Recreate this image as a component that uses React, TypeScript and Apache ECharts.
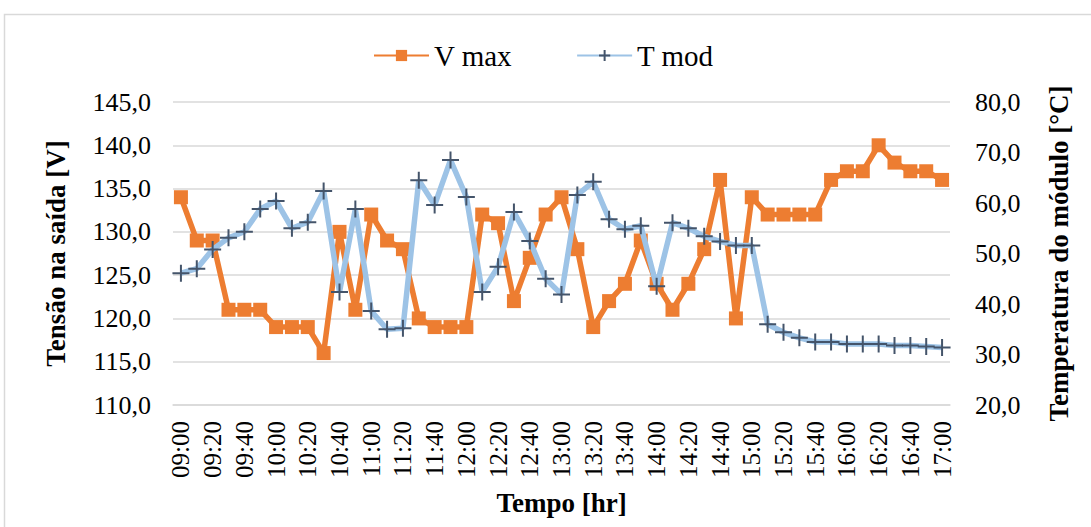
import React, { useEffect, useRef } from "react";
import * as echarts from "echarts";

const categories = [
  "09:00","09:10","09:20","09:30","09:40","09:50",
  "10:00","10:10","10:20","10:30","10:40","10:50",
  "11:00","11:10","11:20","11:30","11:40","11:50",
  "12:00","12:10","12:20","12:30","12:40","12:50",
  "13:00","13:10","13:20","13:30","13:40","13:50",
  "14:00","14:10","14:20","14:30","14:40","14:50",
  "15:00","15:10","15:20","15:30","15:40","15:50",
  "16:00","16:10","16:20","16:30","16:40","16:50",
  "17:00",
];

const vMax = [
  134, 129, 129, 121, 121, 121, 119, 119, 119, 116,
  130, 121, 132, 129, 128, 120, 119, 119, 119, 132,
  131, 122, 127, 132, 134, 128, 119, 122, 124, 129,
  124, 121, 124, 128, 136, 120, 134, 132, 132, 132,
  132, 136, 137, 137, 140, 138, 137, 137, 136,
];

const tMod = [
  46.1, 47.0, 50.8, 53.1, 54.3, 58.8, 60.4, 55.0, 56.2, 62.4,
  42.4, 58.8, 38.6, 35.0, 35.2, 64.5, 59.6, 68.5, 61.2, 42.4,
  47.4, 58.2, 52.5, 45.0, 41.9, 61.6, 64.2, 56.8, 54.8, 55.5,
  43.5, 56.1, 55.0, 53.4, 52.4, 51.6, 51.6, 36.0, 34.4, 33.3,
  32.5, 32.5, 32.1, 32.1, 32.1, 31.8, 31.8, 31.6, 31.4,
];

const seriesNames = ["V max", "T mod"];
const leftTitle = "Tensão na saída [V]";
const rightTitle = "Temperatura do módulo [°C]";
const xTitle = "Tempo [hr]";

const FONT = '"Liberation Serif", "Times New Roman", serif';
const fmt = (v: number) => v.toFixed(1).replace(".", ",");

export default function App() {
  const ref = useRef<HTMLDivElement>(null);
  useEffect(() => {
    if (!ref.current) return;
    const chart = echarts.init(ref.current, undefined, { renderer: "svg" });
    chart.setOption({
      animation: false,
      backgroundColor: "#ffffff",
      textStyle: { fontFamily: FONT, color: "#000" },
      graphic: [
        {
          type: "rect",
          shape: { x: 4.5, y: 14.5, width: 1200, height: 700 },
          style: { fill: "none", stroke: "#D9D9D9", lineWidth: 1.5 },
          silent: true,
          z: -10,
        },
      ],
      legend: {
        top: 36,
        left: 368,
        itemWidth: 55,
        itemHeight: 14,
        itemGap: 64,
        textStyle: { fontFamily: FONT, fontSize: 29, color: "#000" },
        data: seriesNames,
      },
      grid: { left: 173, right: 141, top: 102, bottom: 122, outerBoundsMode: "none", containLabel: false },
      xAxis: {
        type: "category",
        data: categories,
        boundaryGap: true,
        axisLine: { show: true, lineStyle: { color: "#D9D9D9", width: 1.5 } },
        axisTick: { show: false },
        axisLabel: {
          interval: 1,
          rotate: 90,
          margin: 16,
          fontFamily: FONT,
          fontSize: 25,
          color: "#000",
        },
        name: xTitle,
        nameLocation: "middle",
        nameGap: 84,
        nameTextStyle: { fontFamily: FONT, fontSize: 27, fontWeight: "bold", color: "#000" },
      },
      yAxis: [
        {
          type: "value",
          min: 110,
          max: 145,
          interval: 5,
          axisLine: { show: false },
          axisTick: { show: false },
          splitLine: { show: true, lineStyle: { color: "#D9D9D9", width: 1.5 } },
          axisLabel: { formatter: fmt, margin: 22, fontFamily: FONT, fontSize: 26, color: "#000" },
          name: leftTitle,
          nameLocation: "middle",
          nameGap: 104,
          nameTextStyle: { fontFamily: FONT, fontSize: 27, fontWeight: "bold", color: "#000" },
        },
        {
          type: "value",
          min: 20,
          max: 80,
          interval: 10,
          position: "right",
          axisLine: { show: false },
          axisTick: { show: false },
          splitLine: { show: false },
          axisLabel: { formatter: fmt, margin: 25, fontFamily: FONT, fontSize: 26, color: "#000" },
          name: rightTitle,
          nameLocation: "middle",
          nameGap: 95,
          nameTextStyle: { fontFamily: FONT, fontSize: 27, fontWeight: "bold", color: "#000" },
        },
      ],
      series: [
        {
          name: seriesNames[0],
          type: "line",
          yAxisIndex: 0,
          data: vMax,
          symbol: "rect",
          symbolSize: 14,
          showAllSymbol: true,
          lineStyle: { color: "#ED7D31", width: 5.5 },
          itemStyle: { color: "#ED7D31", borderWidth: 0 },
          z: 2,
        },
        {
          name: seriesNames[1],
          type: "line",
          yAxisIndex: 1,
          data: tMod,
          symbol: "path://M0,8 L16,8 M8,0 L8,16",
          symbolSize: 17,
          showAllSymbol: true,
          lineStyle: { color: "#9DC3E6", width: 5.5 },
          itemStyle: { color: "#44546A", borderColor: "#44546A", borderWidth: 2 },
          z: 3,
        },
      ],
    });
    return () => chart.dispose();
  }, []);
  return (
    <div
      ref={ref}
      style={{ position: "fixed", left: 0, top: 0, width: 1091, height: 527 }}
    />
  );
}
